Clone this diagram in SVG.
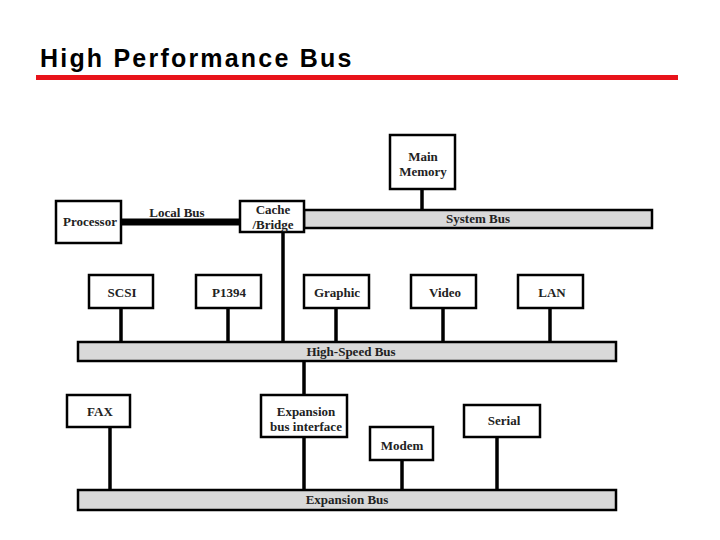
<svg xmlns="http://www.w3.org/2000/svg" width="720" height="540" viewBox="0 0 720 540">
<style>
.box{fill:#fff;stroke:#000;stroke-width:2.5}
.bus{fill:#d9d9d9;stroke:#000;stroke-width:2.5}
.t{font-family:"Liberation Serif",serif;font-weight:bold;font-size:13px;text-anchor:middle;fill:#222}
.c{stroke:#000;stroke-width:3.5}
</style>
<rect width="720" height="540" fill="#fff"/>
<text x="40" y="67" font-family="Liberation Sans,Arial,sans-serif" font-weight="bold" font-size="25" letter-spacing="2.2">High Performance Bus</text>
<rect x="36" y="75" width="642" height="5" fill="#e8131a"/>
<g id="connectors">
<line class="c" x1="422" y1="189" x2="422" y2="211"/>
<line stroke="#000" stroke-width="7" x1="121" y1="222" x2="240" y2="222"/>
<line class="c" x1="283" y1="232" x2="283" y2="342"/>
<line class="c" x1="121" y1="308" x2="121" y2="342"/>
<line class="c" x1="228" y1="308" x2="228" y2="342"/>
<line class="c" x1="336" y1="308" x2="336" y2="342"/>
<line class="c" x1="443" y1="308" x2="443" y2="342"/>
<line class="c" x1="550" y1="308" x2="550" y2="342"/>
<line class="c" x1="304" y1="361" x2="304" y2="395"/>
<line class="c" x1="110" y1="427" x2="110" y2="490"/>
<line class="c" x1="304" y1="437" x2="304" y2="490"/>
<line class="c" x1="402" y1="460" x2="402" y2="490"/>
<line class="c" x1="497" y1="437" x2="497" y2="490"/>
<text class="t" x="177" y="217">Local Bus</text>
</g>
<g id="system-bus"><rect class="bus" x="304" y="210" width="348" height="18"/><text class="t" x="478" y="223">System Bus</text></g>
<g id="high-speed-bus"><rect class="bus" x="78" y="342" width="538" height="19"/><text class="t" x="351" y="356">High-Speed Bus</text></g>
<g id="expansion-bus"><rect class="bus" x="78" y="490" width="538" height="20"/><text class="t" x="347" y="504">Expansion Bus</text></g>
<g id="main-memory"><rect class="box" x="390" y="135" width="65" height="54"/><text class="t" x="423" y="161">Main</text><text class="t" x="423" y="176">Memory</text></g>
<g id="processor"><rect class="box" x="56" y="201" width="65" height="42"/><text class="t" x="90" y="226">Processor</text></g>
<g id="cache"><rect class="box" x="240" y="201" width="64" height="31"/><text class="t" x="273" y="214">Cache</text><text class="t" x="273" y="229">/Bridge</text></g>
<g id="scsi"><rect class="box" x="89" y="275" width="64" height="33"/><text class="t" x="122" y="297">SCSI</text></g>
<g id="p1394"><rect class="box" x="196" y="275" width="65" height="33"/><text class="t" x="229" y="297">P1394</text></g>
<g id="graphic"><rect class="box" x="304" y="275" width="65" height="33"/><text class="t" x="337" y="297">Graphic</text></g>
<g id="video"><rect class="box" x="411" y="275" width="65" height="33"/><text class="t" x="445" y="297">Video</text></g>
<g id="lan"><rect class="box" x="518" y="275" width="65" height="33"/><text class="t" x="552" y="297">LAN</text></g>
<g id="fax"><rect class="box" x="67" y="395" width="63" height="32"/><text class="t" x="100" y="416">FAX</text></g>
<g id="expansion-interface"><rect class="box" x="261" y="395" width="86" height="42"/><text class="t" x="306" y="416">Expansion</text><text class="t" x="306" y="431">bus interface</text></g>
<g id="modem"><rect class="box" x="370" y="427" width="63" height="33"/><text class="t" x="402" y="450">Modem</text></g>
<g id="serial"><rect class="box" x="464" y="405" width="76" height="32"/><text class="t" x="504" y="425">Serial</text></g>
</svg>
